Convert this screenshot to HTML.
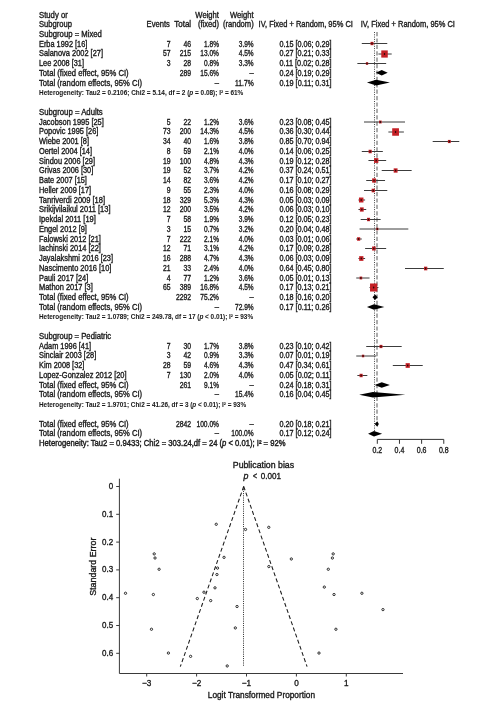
<!DOCTYPE html>
<html><head><meta charset="utf-8"><style>
html,body{margin:0;padding:0;background:#fff;}
svg{display:block;}
text{font-family:"Liberation Sans",sans-serif;fill:#1a1a1a;stroke:#1a1a1a;stroke-width:0.35px;white-space:pre;}
</style></head><body>
<svg width="499" height="712" viewBox="0 0 499 712">
<rect width="499" height="712" fill="#fff"/>
<line x1="377.0" y1="32" x2="377.0" y2="421" stroke="#a8a8a8" stroke-width="1.9" stroke-dasharray="4.2 2.2"/>
<line x1="374.5" y1="32" x2="374.5" y2="431" stroke="#333" stroke-width="0.9" stroke-dasharray="1 1.3"/>
<line x1="361.79" y1="43.50" x2="387.27" y2="43.50" stroke="#3c3c3c" stroke-width="1"/>
<rect x="370.51" y="41.85" width="2.98" height="3.31" fill="#c42026"/>
<ellipse cx="372.00" cy="43.50" rx="0.75" ry="0.95" fill="#2a0a0a"/>
<line x1="378.41" y1="54.00" x2="391.70" y2="54.00" stroke="#3c3c3c" stroke-width="1"/>
<rect x="381.27" y="50.40" width="6.49" height="7.20" fill="#c42026"/>
<ellipse cx="384.51" cy="54.00" rx="0.75" ry="0.95" fill="#2a0a0a"/>
<line x1="357.36" y1="63.50" x2="386.16" y2="63.50" stroke="#3c3c3c" stroke-width="1"/>
<rect x="365.87" y="62.23" width="2.29" height="2.54" fill="#c42026"/>
<ellipse cx="367.01" cy="63.50" rx="0.75" ry="0.95" fill="#2a0a0a"/>
<polygon points="375.79,72.82 381.73,70.02 387.67,72.82 381.73,75.62" fill="#000"/>
<polygon points="366.93,82.58 376.19,79.78 389.89,82.58 376.19,85.38" fill="#000"/>
<line x1="364.00" y1="122.00" x2="405.00" y2="122.00" stroke="#3c3c3c" stroke-width="1"/>
<rect x="379.02" y="120.56" width="2.60" height="2.88" fill="#c42026"/>
<ellipse cx="380.32" cy="122.00" rx="0.75" ry="0.95" fill="#2a0a0a"/>
<line x1="388.38" y1="132.00" x2="403.89" y2="132.00" stroke="#3c3c3c" stroke-width="1"/>
<rect x="392.20" y="128.25" width="6.76" height="7.50" fill="#c42026"/>
<ellipse cx="395.58" cy="132.00" rx="0.75" ry="0.95" fill="#2a0a0a"/>
<line x1="432.70" y1="141.50" x2="459.29" y2="141.50" stroke="#3c3c3c" stroke-width="1"/>
<rect x="447.89" y="139.91" width="2.86" height="3.18" fill="#c42026"/>
<ellipse cx="449.32" cy="141.50" rx="0.75" ry="0.95" fill="#2a0a0a"/>
<line x1="361.79" y1="151.50" x2="382.84" y2="151.50" stroke="#3c3c3c" stroke-width="1"/>
<rect x="368.59" y="149.75" width="3.15" height="3.49" fill="#c42026"/>
<ellipse cx="370.16" cy="151.50" rx="0.75" ry="0.95" fill="#2a0a0a"/>
<line x1="368.44" y1="160.50" x2="386.16" y2="160.50" stroke="#3c3c3c" stroke-width="1"/>
<rect x="374.04" y="158.12" width="4.30" height="4.77" fill="#c42026"/>
<ellipse cx="376.19" cy="160.50" rx="0.75" ry="0.95" fill="#2a0a0a"/>
<line x1="381.73" y1="170.50" x2="411.65" y2="170.50" stroke="#3c3c3c" stroke-width="1"/>
<rect x="393.68" y="168.35" width="3.88" height="4.31" fill="#c42026"/>
<ellipse cx="395.62" cy="170.50" rx="0.75" ry="0.95" fill="#2a0a0a"/>
<line x1="366.22" y1="180.50" x2="385.06" y2="180.50" stroke="#3c3c3c" stroke-width="1"/>
<rect x="372.14" y="178.37" width="3.84" height="4.26" fill="#c42026"/>
<ellipse cx="374.06" cy="180.50" rx="0.75" ry="0.95" fill="#2a0a0a"/>
<line x1="364.00" y1="190.50" x2="387.27" y2="190.50" stroke="#3c3c3c" stroke-width="1"/>
<rect x="371.65" y="188.70" width="3.25" height="3.61" fill="#c42026"/>
<ellipse cx="373.27" cy="190.50" rx="0.75" ry="0.95" fill="#2a0a0a"/>
<line x1="358.46" y1="200.00" x2="365.11" y2="200.00" stroke="#3c3c3c" stroke-width="1"/>
<rect x="358.97" y="197.52" width="4.47" height="4.96" fill="#c42026"/>
<ellipse cx="361.20" cy="200.00" rx="0.75" ry="0.95" fill="#2a0a0a"/>
<line x1="358.46" y1="209.50" x2="366.22" y2="209.50" stroke="#3c3c3c" stroke-width="1"/>
<rect x="359.89" y="207.39" width="3.80" height="4.22" fill="#c42026"/>
<ellipse cx="361.79" cy="209.50" rx="0.75" ry="0.95" fill="#2a0a0a"/>
<line x1="360.68" y1="219.50" x2="380.62" y2="219.50" stroke="#3c3c3c" stroke-width="1"/>
<rect x="366.99" y="217.81" width="3.04" height="3.37" fill="#c42026"/>
<ellipse cx="368.51" cy="219.50" rx="0.75" ry="0.95" fill="#2a0a0a"/>
<line x1="359.57" y1="229.00" x2="408.32" y2="229.00" stroke="#3c3c3c" stroke-width="1"/>
<rect x="376.20" y="227.78" width="2.20" height="2.44" fill="#c42026"/>
<ellipse cx="377.30" cy="229.00" rx="0.75" ry="0.95" fill="#2a0a0a"/>
<line x1="356.25" y1="239.00" x2="361.79" y2="239.00" stroke="#3c3c3c" stroke-width="1"/>
<rect x="357.06" y="237.25" width="3.15" height="3.49" fill="#c42026"/>
<ellipse cx="358.63" cy="239.00" rx="0.75" ry="0.95" fill="#2a0a0a"/>
<line x1="365.11" y1="248.50" x2="386.16" y2="248.50" stroke="#3c3c3c" stroke-width="1"/>
<rect x="372.05" y="246.49" width="3.63" height="4.03" fill="#c42026"/>
<ellipse cx="373.87" cy="248.50" rx="0.75" ry="0.95" fill="#2a0a0a"/>
<line x1="358.46" y1="258.50" x2="365.11" y2="258.50" stroke="#3c3c3c" stroke-width="1"/>
<rect x="359.17" y="256.14" width="4.26" height="4.73" fill="#c42026"/>
<ellipse cx="361.30" cy="258.50" rx="0.75" ry="0.95" fill="#2a0a0a"/>
<line x1="405.00" y1="268.50" x2="443.78" y2="268.50" stroke="#3c3c3c" stroke-width="1"/>
<rect x="424.00" y="266.67" width="3.30" height="3.66" fill="#c42026"/>
<ellipse cx="425.65" cy="268.50" rx="0.75" ry="0.95" fill="#2a0a0a"/>
<line x1="356.25" y1="278.00" x2="369.54" y2="278.00" stroke="#3c3c3c" stroke-width="1"/>
<rect x="359.60" y="276.56" width="2.60" height="2.88" fill="#c42026"/>
<ellipse cx="360.90" cy="278.00" rx="0.75" ry="0.95" fill="#2a0a0a"/>
<line x1="369.54" y1="287.50" x2="378.41" y2="287.50" stroke="#3c3c3c" stroke-width="1"/>
<rect x="370.03" y="283.48" width="7.25" height="8.05" fill="#c42026"/>
<ellipse cx="373.65" cy="287.50" rx="0.75" ry="0.95" fill="#2a0a0a"/>
<polygon points="372.47,297.21 375.08,294.41 377.70,297.21 375.08,300.01" fill="#000"/>
<polygon points="366.93,306.97 373.98,304.17 384.35,306.97 373.98,309.77" fill="#000"/>
<line x1="366.22" y1="346.50" x2="401.68" y2="346.50" stroke="#3c3c3c" stroke-width="1"/>
<rect x="379.53" y="344.88" width="2.92" height="3.24" fill="#c42026"/>
<ellipse cx="380.99" cy="346.50" rx="0.75" ry="0.95" fill="#2a0a0a"/>
<line x1="356.25" y1="356.00" x2="376.19" y2="356.00" stroke="#3c3c3c" stroke-width="1"/>
<rect x="361.87" y="354.68" width="2.37" height="2.63" fill="#c42026"/>
<ellipse cx="363.05" cy="356.00" rx="0.75" ry="0.95" fill="#2a0a0a"/>
<line x1="392.81" y1="365.50" x2="422.73" y2="365.50" stroke="#3c3c3c" stroke-width="1"/>
<rect x="405.61" y="363.16" width="4.22" height="4.69" fill="#c42026"/>
<ellipse cx="407.72" cy="365.50" rx="0.75" ry="0.95" fill="#2a0a0a"/>
<line x1="357.36" y1="375.50" x2="367.33" y2="375.50" stroke="#3c3c3c" stroke-width="1"/>
<rect x="359.56" y="373.78" width="3.09" height="3.43" fill="#c42026"/>
<ellipse cx="361.11" cy="375.50" rx="0.75" ry="0.95" fill="#2a0a0a"/>
<polygon points="374.68,385.02 381.73,382.22 389.89,385.02 381.73,387.82" fill="#000"/>
<polygon points="359.17,394.77 372.87,391.97 405.40,394.77 372.87,397.57" fill="#000"/>
<polygon points="374.68,424.04 377.30,421.24 378.81,424.04 377.30,426.84" fill="#000"/>
<polygon points="368.04,433.80 373.98,431.00 382.13,433.80 373.98,436.60" fill="#000"/>
<line x1="377.30" y1="439.4" x2="443.78" y2="439.4" stroke="#333" stroke-width="1"/>
<line x1="377.30" y1="439.4" x2="377.30" y2="443.8" stroke="#333" stroke-width="1"/>
<line x1="399.46" y1="439.4" x2="399.46" y2="443.8" stroke="#333" stroke-width="1"/>
<line x1="421.62" y1="439.4" x2="421.62" y2="443.8" stroke="#333" stroke-width="1"/>
<line x1="443.78" y1="439.4" x2="443.78" y2="443.8" stroke="#333" stroke-width="1"/>
<path d="M119.4,478.7 L119.4,673.5 L403.0,673.5" fill="none" stroke="#3a3a3a" stroke-width="1"/>
<line x1="116.2" y1="486.50" x2="119.4" y2="486.50" stroke="#3a3a3a" stroke-width="1"/>
<line x1="116.2" y1="514.30" x2="119.4" y2="514.30" stroke="#3a3a3a" stroke-width="1"/>
<line x1="116.2" y1="542.10" x2="119.4" y2="542.10" stroke="#3a3a3a" stroke-width="1"/>
<line x1="116.2" y1="569.90" x2="119.4" y2="569.90" stroke="#3a3a3a" stroke-width="1"/>
<line x1="116.2" y1="597.70" x2="119.4" y2="597.70" stroke="#3a3a3a" stroke-width="1"/>
<line x1="116.2" y1="625.50" x2="119.4" y2="625.50" stroke="#3a3a3a" stroke-width="1"/>
<line x1="116.2" y1="653.30" x2="119.4" y2="653.30" stroke="#3a3a3a" stroke-width="1"/>
<line x1="146.70" y1="673.5" x2="146.70" y2="676.5" stroke="#3a3a3a" stroke-width="1"/>
<line x1="196.60" y1="673.5" x2="196.60" y2="676.5" stroke="#3a3a3a" stroke-width="1"/>
<line x1="246.50" y1="673.5" x2="246.50" y2="676.5" stroke="#3a3a3a" stroke-width="1"/>
<line x1="296.40" y1="673.5" x2="296.40" y2="676.5" stroke="#3a3a3a" stroke-width="1"/>
<line x1="346.30" y1="673.5" x2="346.30" y2="676.5" stroke="#3a3a3a" stroke-width="1"/>
<line x1="243.5" y1="486.5" x2="243.5" y2="666.7" stroke="#111" stroke-width="0.9" stroke-dasharray="1 1.2"/>
<line x1="243.7" y1="486.5" x2="180.30" y2="666.7" stroke="#1a1a1a" stroke-width="1.05" stroke-dasharray="4 2.5"/>
<line x1="243.7" y1="486.5" x2="307.10" y2="666.7" stroke="#1a1a1a" stroke-width="1.05" stroke-dasharray="4 2.5"/>
<circle cx="210.69" cy="600.61" r="1.15" fill="none" stroke="#222" stroke-width="0.95"/>
<circle cx="245.52" cy="529.45" r="1.15" fill="none" stroke="#222" stroke-width="0.95"/>
<circle cx="190.60" cy="656.36" r="1.15" fill="none" stroke="#222" stroke-width="0.95"/>
<circle cx="235.33" cy="627.93" r="1.15" fill="none" stroke="#222" stroke-width="0.95"/>
<circle cx="268.77" cy="527.33" r="1.15" fill="none" stroke="#222" stroke-width="0.95"/>
<circle cx="382.96" cy="609.60" r="1.15" fill="none" stroke="#222" stroke-width="0.95"/>
<circle cx="203.97" cy="592.22" r="1.15" fill="none" stroke="#222" stroke-width="0.95"/>
<circle cx="224.04" cy="557.36" r="1.15" fill="none" stroke="#222" stroke-width="0.95"/>
<circle cx="268.85" cy="566.56" r="1.15" fill="none" stroke="#222" stroke-width="0.95"/>
<circle cx="217.54" cy="568.09" r="1.15" fill="none" stroke="#222" stroke-width="0.95"/>
<circle cx="214.99" cy="587.83" r="1.15" fill="none" stroke="#222" stroke-width="0.95"/>
<circle cx="154.21" cy="553.89" r="1.15" fill="none" stroke="#222" stroke-width="0.95"/>
<circle cx="333.19" cy="553.89" r="1.15" fill="none" stroke="#222" stroke-width="0.95"/>
<circle cx="159.10" cy="569.27" r="1.15" fill="none" stroke="#222" stroke-width="0.95"/>
<circle cx="328.30" cy="569.27" r="1.15" fill="none" stroke="#222" stroke-width="0.95"/>
<circle cx="197.30" cy="598.55" r="1.15" fill="none" stroke="#222" stroke-width="0.95"/>
<circle cx="227.22" cy="665.95" r="1.15" fill="none" stroke="#222" stroke-width="0.95"/>
<circle cx="125.51" cy="593.27" r="1.15" fill="none" stroke="#222" stroke-width="0.95"/>
<circle cx="361.89" cy="593.27" r="1.15" fill="none" stroke="#222" stroke-width="0.95"/>
<circle cx="216.93" cy="574.54" r="1.15" fill="none" stroke="#222" stroke-width="0.95"/>
<circle cx="155.02" cy="558.01" r="1.15" fill="none" stroke="#222" stroke-width="0.95"/>
<circle cx="332.38" cy="558.01" r="1.15" fill="none" stroke="#222" stroke-width="0.95"/>
<circle cx="324.32" cy="587.10" r="1.15" fill="none" stroke="#222" stroke-width="0.95"/>
<circle cx="151.48" cy="629.26" r="1.15" fill="none" stroke="#222" stroke-width="0.95"/>
<circle cx="335.92" cy="629.26" r="1.15" fill="none" stroke="#222" stroke-width="0.95"/>
<circle cx="216.24" cy="524.28" r="1.15" fill="none" stroke="#222" stroke-width="0.95"/>
<circle cx="237.04" cy="606.50" r="1.15" fill="none" stroke="#222" stroke-width="0.95"/>
<circle cx="168.41" cy="653.06" r="1.15" fill="none" stroke="#222" stroke-width="0.95"/>
<circle cx="318.99" cy="653.06" r="1.15" fill="none" stroke="#222" stroke-width="0.95"/>
<circle cx="291.32" cy="558.98" r="1.15" fill="none" stroke="#222" stroke-width="0.95"/>
<circle cx="153.37" cy="594.52" r="1.15" fill="none" stroke="#222" stroke-width="0.95"/>
<circle cx="334.03" cy="594.52" r="1.15" fill="none" stroke="#222" stroke-width="0.95"/>
<g style="filter:grayscale(1)">
<text x="39.00" y="17.82" font-size="8.3" textLength="28.82" lengthAdjust="spacingAndGlyphs">Study or</text>
<text x="39.00" y="27.36" font-size="8.3" textLength="32.94" lengthAdjust="spacingAndGlyphs">Subgroup</text>
<text x="146.58" y="27.36" font-size="8.3" textLength="23.22" lengthAdjust="spacingAndGlyphs">Events</text>
<text x="174.22" y="27.36" font-size="8.3" textLength="16.88" lengthAdjust="spacingAndGlyphs">Total</text>
<text x="195.36" y="17.82" font-size="8.3" textLength="23.64" lengthAdjust="spacingAndGlyphs">Weight</text>
<text x="197.90" y="27.36" font-size="8.3" textLength="21.10" lengthAdjust="spacingAndGlyphs">(fixed)</text>
<text x="230.06" y="17.82" font-size="8.3" textLength="23.64" lengthAdjust="spacingAndGlyphs">Weight</text>
<text x="222.89" y="27.36" font-size="8.3" textLength="30.81" lengthAdjust="spacingAndGlyphs">(random)</text>
<text x="258.60" y="26.96" font-size="8.3" textLength="94.30" lengthAdjust="spacingAndGlyphs">IV, Fixed + Random, 95% CI</text>
<text x="360.70" y="26.96" font-size="8.3" textLength="94.20" lengthAdjust="spacingAndGlyphs">IV, Fixed + Random, 95% CI</text>
<text x="39.00" y="37.00" font-size="8.3" textLength="62.92" lengthAdjust="spacingAndGlyphs">Subgroup = Mixed</text>
<text x="39.00" y="46.74" font-size="8.3" textLength="48.34" lengthAdjust="spacingAndGlyphs">Erba 1992 [16]</text>
<text x="166.70" y="46.74" font-size="8.3" textLength="3.80" lengthAdjust="spacingAndGlyphs">7</text>
<text x="183.50" y="46.74" font-size="8.3" textLength="7.60" lengthAdjust="spacingAndGlyphs">46</text>
<text x="204.09" y="46.74" font-size="8.3" textLength="14.91" lengthAdjust="spacingAndGlyphs">1.8%</text>
<text x="238.79" y="46.74" font-size="8.3" textLength="14.91" lengthAdjust="spacingAndGlyphs">3.9%</text>
<text x="279.40" y="46.74" font-size="8.3" textLength="52.14" lengthAdjust="spacingAndGlyphs">0.15 [0.06; 0.29]</text>
<text x="39.00" y="56.48" font-size="8.3" textLength="63.97" lengthAdjust="spacingAndGlyphs">Salanova 2002 [27]</text>
<text x="162.90" y="56.48" font-size="8.3" textLength="7.60" lengthAdjust="spacingAndGlyphs">57</text>
<text x="179.70" y="56.48" font-size="8.3" textLength="11.40" lengthAdjust="spacingAndGlyphs">215</text>
<text x="200.29" y="56.48" font-size="8.3" textLength="18.71" lengthAdjust="spacingAndGlyphs">13.0%</text>
<text x="238.79" y="56.48" font-size="8.3" textLength="14.91" lengthAdjust="spacingAndGlyphs">4.5%</text>
<text x="279.40" y="56.48" font-size="8.3" textLength="52.14" lengthAdjust="spacingAndGlyphs">0.27 [0.21; 0.33]</text>
<text x="39.00" y="66.22" font-size="8.3" textLength="44.97" lengthAdjust="spacingAndGlyphs">Lee 2008 [31]</text>
<text x="166.70" y="66.22" font-size="8.3" textLength="3.80" lengthAdjust="spacingAndGlyphs">3</text>
<text x="183.50" y="66.22" font-size="8.3" textLength="7.60" lengthAdjust="spacingAndGlyphs">28</text>
<text x="204.09" y="66.22" font-size="8.3" textLength="14.91" lengthAdjust="spacingAndGlyphs">0.8%</text>
<text x="238.79" y="66.22" font-size="8.3" textLength="14.91" lengthAdjust="spacingAndGlyphs">3.3%</text>
<text x="279.40" y="66.22" font-size="8.3" textLength="52.14" lengthAdjust="spacingAndGlyphs">0.11 [0.02; 0.28]</text>
<text x="39.00" y="75.96" font-size="8.3" textLength="89.63" lengthAdjust="spacingAndGlyphs">Total (fixed effect, 95% CI)</text>
<text x="179.70" y="75.96" font-size="8.3" textLength="11.40" lengthAdjust="spacingAndGlyphs">289</text>
<text x="200.29" y="75.96" font-size="8.3" textLength="18.71" lengthAdjust="spacingAndGlyphs">15.6%</text>
<text x="249.48" y="75.96" font-size="8.3" textLength="4.22" lengthAdjust="spacingAndGlyphs">–</text>
<text x="279.40" y="75.96" font-size="8.3" textLength="52.14" lengthAdjust="spacingAndGlyphs">0.24 [0.19; 0.29]</text>
<text x="39.00" y="85.70" font-size="8.3" textLength="103.14" lengthAdjust="spacingAndGlyphs">Total (random effects, 95% CI)</text>
<text x="214.78" y="85.70" font-size="8.3" textLength="4.22" lengthAdjust="spacingAndGlyphs">–</text>
<text x="234.99" y="85.70" font-size="8.3" textLength="18.71" lengthAdjust="spacingAndGlyphs">11.7%</text>
<text x="279.40" y="85.70" font-size="8.3" textLength="52.14" lengthAdjust="spacingAndGlyphs">0.19 [0.11; 0.31]</text>
<text x="39.00" y="95.24" font-size="7" textLength="204.30" lengthAdjust="spacingAndGlyphs" font-weight="bold" style="stroke-width:0.05px">Heterogeneity: Tau2 = 0.2106; Chi2 = 5.14, df = 2 (<tspan font-style="italic">p</tspan> = 0.08); I² = 61%</text>
<text x="39.00" y="114.92" font-size="8.3" textLength="63.76" lengthAdjust="spacingAndGlyphs">Subgroup = Adults</text>
<text x="39.00" y="124.66" font-size="8.3" textLength="64.81" lengthAdjust="spacingAndGlyphs">Jacobson 1995 [25]</text>
<text x="166.70" y="124.66" font-size="8.3" textLength="3.80" lengthAdjust="spacingAndGlyphs">5</text>
<text x="183.50" y="124.66" font-size="8.3" textLength="7.60" lengthAdjust="spacingAndGlyphs">22</text>
<text x="204.09" y="124.66" font-size="8.3" textLength="14.91" lengthAdjust="spacingAndGlyphs">1.2%</text>
<text x="238.79" y="124.66" font-size="8.3" textLength="14.91" lengthAdjust="spacingAndGlyphs">3.6%</text>
<text x="279.40" y="124.66" font-size="8.3" textLength="52.14" lengthAdjust="spacingAndGlyphs">0.23 [0.08; 0.45]</text>
<text x="39.00" y="134.40" font-size="8.3" textLength="59.32" lengthAdjust="spacingAndGlyphs">Popovic 1995 [26]</text>
<text x="162.90" y="134.40" font-size="8.3" textLength="7.60" lengthAdjust="spacingAndGlyphs">73</text>
<text x="179.70" y="134.40" font-size="8.3" textLength="11.40" lengthAdjust="spacingAndGlyphs">200</text>
<text x="200.29" y="134.40" font-size="8.3" textLength="18.71" lengthAdjust="spacingAndGlyphs">14.3%</text>
<text x="238.79" y="134.40" font-size="8.3" textLength="14.91" lengthAdjust="spacingAndGlyphs">4.5%</text>
<text x="279.40" y="134.40" font-size="8.3" textLength="52.14" lengthAdjust="spacingAndGlyphs">0.36 [0.30; 0.44]</text>
<text x="39.00" y="144.14" font-size="8.3" textLength="50.03" lengthAdjust="spacingAndGlyphs">Wiebe 2001 [8]</text>
<text x="162.90" y="144.14" font-size="8.3" textLength="7.60" lengthAdjust="spacingAndGlyphs">34</text>
<text x="183.50" y="144.14" font-size="8.3" textLength="7.60" lengthAdjust="spacingAndGlyphs">40</text>
<text x="204.09" y="144.14" font-size="8.3" textLength="14.91" lengthAdjust="spacingAndGlyphs">1.6%</text>
<text x="238.79" y="144.14" font-size="8.3" textLength="14.91" lengthAdjust="spacingAndGlyphs">3.8%</text>
<text x="279.40" y="144.14" font-size="8.3" textLength="52.14" lengthAdjust="spacingAndGlyphs">0.85 [0.70; 0.94]</text>
<text x="39.00" y="153.88" font-size="8.3" textLength="52.98" lengthAdjust="spacingAndGlyphs">Oertel 2004 [14]</text>
<text x="166.70" y="153.88" font-size="8.3" textLength="3.80" lengthAdjust="spacingAndGlyphs">8</text>
<text x="183.50" y="153.88" font-size="8.3" textLength="7.60" lengthAdjust="spacingAndGlyphs">59</text>
<text x="204.09" y="153.88" font-size="8.3" textLength="14.91" lengthAdjust="spacingAndGlyphs">2.1%</text>
<text x="238.79" y="153.88" font-size="8.3" textLength="14.91" lengthAdjust="spacingAndGlyphs">4.0%</text>
<text x="279.40" y="153.88" font-size="8.3" textLength="52.14" lengthAdjust="spacingAndGlyphs">0.14 [0.06; 0.25]</text>
<text x="39.00" y="163.62" font-size="8.3" textLength="55.95" lengthAdjust="spacingAndGlyphs">Sindou 2006 [29]</text>
<text x="162.90" y="163.62" font-size="8.3" textLength="7.60" lengthAdjust="spacingAndGlyphs">19</text>
<text x="179.70" y="163.62" font-size="8.3" textLength="11.40" lengthAdjust="spacingAndGlyphs">100</text>
<text x="204.09" y="163.62" font-size="8.3" textLength="14.91" lengthAdjust="spacingAndGlyphs">4.8%</text>
<text x="238.79" y="163.62" font-size="8.3" textLength="14.91" lengthAdjust="spacingAndGlyphs">4.3%</text>
<text x="279.40" y="163.62" font-size="8.3" textLength="52.14" lengthAdjust="spacingAndGlyphs">0.19 [0.12; 0.28]</text>
<text x="39.00" y="173.36" font-size="8.3" textLength="54.24" lengthAdjust="spacingAndGlyphs">Grivas 2006 [30]</text>
<text x="162.90" y="173.36" font-size="8.3" textLength="7.60" lengthAdjust="spacingAndGlyphs">19</text>
<text x="183.50" y="173.36" font-size="8.3" textLength="7.60" lengthAdjust="spacingAndGlyphs">52</text>
<text x="204.09" y="173.36" font-size="8.3" textLength="14.91" lengthAdjust="spacingAndGlyphs">3.7%</text>
<text x="238.79" y="173.36" font-size="8.3" textLength="14.91" lengthAdjust="spacingAndGlyphs">4.2%</text>
<text x="279.40" y="173.36" font-size="8.3" textLength="52.14" lengthAdjust="spacingAndGlyphs">0.37 [0.24; 0.51]</text>
<text x="39.00" y="183.10" font-size="8.3" textLength="47.92" lengthAdjust="spacingAndGlyphs">Bate 2007 [15]</text>
<text x="162.90" y="183.10" font-size="8.3" textLength="7.60" lengthAdjust="spacingAndGlyphs">14</text>
<text x="183.50" y="183.10" font-size="8.3" textLength="7.60" lengthAdjust="spacingAndGlyphs">82</text>
<text x="204.09" y="183.10" font-size="8.3" textLength="14.91" lengthAdjust="spacingAndGlyphs">3.6%</text>
<text x="238.79" y="183.10" font-size="8.3" textLength="14.91" lengthAdjust="spacingAndGlyphs">4.2%</text>
<text x="279.40" y="183.10" font-size="8.3" textLength="52.14" lengthAdjust="spacingAndGlyphs">0.17 [0.10; 0.27]</text>
<text x="39.00" y="192.84" font-size="8.3" textLength="52.14" lengthAdjust="spacingAndGlyphs">Heller 2009 [17]</text>
<text x="166.70" y="192.84" font-size="8.3" textLength="3.80" lengthAdjust="spacingAndGlyphs">9</text>
<text x="183.50" y="192.84" font-size="8.3" textLength="7.60" lengthAdjust="spacingAndGlyphs">55</text>
<text x="204.09" y="192.84" font-size="8.3" textLength="14.91" lengthAdjust="spacingAndGlyphs">2.3%</text>
<text x="238.79" y="192.84" font-size="8.3" textLength="14.91" lengthAdjust="spacingAndGlyphs">4.0%</text>
<text x="279.40" y="192.84" font-size="8.3" textLength="52.14" lengthAdjust="spacingAndGlyphs">0.16 [0.08; 0.29]</text>
<text x="39.00" y="202.58" font-size="8.3" textLength="66.06" lengthAdjust="spacingAndGlyphs">Tanriverdi 2009 [18]</text>
<text x="162.90" y="202.58" font-size="8.3" textLength="7.60" lengthAdjust="spacingAndGlyphs">18</text>
<text x="179.70" y="202.58" font-size="8.3" textLength="11.40" lengthAdjust="spacingAndGlyphs">329</text>
<text x="204.09" y="202.58" font-size="8.3" textLength="14.91" lengthAdjust="spacingAndGlyphs">5.3%</text>
<text x="238.79" y="202.58" font-size="8.3" textLength="14.91" lengthAdjust="spacingAndGlyphs">4.3%</text>
<text x="279.40" y="202.58" font-size="8.3" textLength="52.14" lengthAdjust="spacingAndGlyphs">0.05 [0.03; 0.09]</text>
<text x="39.00" y="212.32" font-size="8.3" textLength="71.54" lengthAdjust="spacingAndGlyphs">Srikijvilaikul 2011 [13]</text>
<text x="162.90" y="212.32" font-size="8.3" textLength="7.60" lengthAdjust="spacingAndGlyphs">12</text>
<text x="179.70" y="212.32" font-size="8.3" textLength="11.40" lengthAdjust="spacingAndGlyphs">200</text>
<text x="204.09" y="212.32" font-size="8.3" textLength="14.91" lengthAdjust="spacingAndGlyphs">3.5%</text>
<text x="238.79" y="212.32" font-size="8.3" textLength="14.91" lengthAdjust="spacingAndGlyphs">4.2%</text>
<text x="279.40" y="212.32" font-size="8.3" textLength="52.14" lengthAdjust="spacingAndGlyphs">0.06 [0.03; 0.10]</text>
<text x="39.00" y="222.06" font-size="8.3" textLength="56.79" lengthAdjust="spacingAndGlyphs">Ipekdal 2011 [19]</text>
<text x="166.70" y="222.06" font-size="8.3" textLength="3.80" lengthAdjust="spacingAndGlyphs">7</text>
<text x="183.50" y="222.06" font-size="8.3" textLength="7.60" lengthAdjust="spacingAndGlyphs">58</text>
<text x="204.09" y="222.06" font-size="8.3" textLength="14.91" lengthAdjust="spacingAndGlyphs">1.9%</text>
<text x="238.79" y="222.06" font-size="8.3" textLength="14.91" lengthAdjust="spacingAndGlyphs">3.9%</text>
<text x="279.40" y="222.06" font-size="8.3" textLength="52.14" lengthAdjust="spacingAndGlyphs">0.12 [0.05; 0.23]</text>
<text x="39.00" y="231.80" font-size="8.3" textLength="47.92" lengthAdjust="spacingAndGlyphs">Engel 2012 [9]</text>
<text x="166.70" y="231.80" font-size="8.3" textLength="3.80" lengthAdjust="spacingAndGlyphs">3</text>
<text x="183.50" y="231.80" font-size="8.3" textLength="7.60" lengthAdjust="spacingAndGlyphs">15</text>
<text x="204.09" y="231.80" font-size="8.3" textLength="14.91" lengthAdjust="spacingAndGlyphs">0.7%</text>
<text x="238.79" y="231.80" font-size="8.3" textLength="14.91" lengthAdjust="spacingAndGlyphs">3.2%</text>
<text x="279.40" y="231.80" font-size="8.3" textLength="52.14" lengthAdjust="spacingAndGlyphs">0.20 [0.04; 0.48]</text>
<text x="39.00" y="241.54" font-size="8.3" textLength="61.84" lengthAdjust="spacingAndGlyphs">Falowski 2012 [21]</text>
<text x="166.70" y="241.54" font-size="8.3" textLength="3.80" lengthAdjust="spacingAndGlyphs">7</text>
<text x="179.70" y="241.54" font-size="8.3" textLength="11.40" lengthAdjust="spacingAndGlyphs">222</text>
<text x="204.09" y="241.54" font-size="8.3" textLength="14.91" lengthAdjust="spacingAndGlyphs">2.1%</text>
<text x="238.79" y="241.54" font-size="8.3" textLength="14.91" lengthAdjust="spacingAndGlyphs">4.0%</text>
<text x="279.40" y="241.54" font-size="8.3" textLength="52.14" lengthAdjust="spacingAndGlyphs">0.03 [0.01; 0.06]</text>
<text x="39.00" y="251.28" font-size="8.3" textLength="61.85" lengthAdjust="spacingAndGlyphs">Iachinski 2014 [22]</text>
<text x="162.90" y="251.28" font-size="8.3" textLength="7.60" lengthAdjust="spacingAndGlyphs">12</text>
<text x="183.50" y="251.28" font-size="8.3" textLength="7.60" lengthAdjust="spacingAndGlyphs">71</text>
<text x="204.09" y="251.28" font-size="8.3" textLength="14.91" lengthAdjust="spacingAndGlyphs">3.1%</text>
<text x="238.79" y="251.28" font-size="8.3" textLength="14.91" lengthAdjust="spacingAndGlyphs">4.2%</text>
<text x="279.40" y="251.28" font-size="8.3" textLength="52.14" lengthAdjust="spacingAndGlyphs">0.17 [0.09; 0.28]</text>
<text x="39.00" y="261.02" font-size="8.3" textLength="74.08" lengthAdjust="spacingAndGlyphs">Jayalakshmi 2016 [23]</text>
<text x="162.90" y="261.02" font-size="8.3" textLength="7.60" lengthAdjust="spacingAndGlyphs">16</text>
<text x="179.70" y="261.02" font-size="8.3" textLength="11.40" lengthAdjust="spacingAndGlyphs">288</text>
<text x="204.09" y="261.02" font-size="8.3" textLength="14.91" lengthAdjust="spacingAndGlyphs">4.7%</text>
<text x="238.79" y="261.02" font-size="8.3" textLength="14.91" lengthAdjust="spacingAndGlyphs">4.3%</text>
<text x="279.40" y="261.02" font-size="8.3" textLength="52.14" lengthAdjust="spacingAndGlyphs">0.06 [0.03; 0.09]</text>
<text x="39.00" y="270.76" font-size="8.3" textLength="72.40" lengthAdjust="spacingAndGlyphs">Nascimento 2016 [10]</text>
<text x="162.90" y="270.76" font-size="8.3" textLength="7.60" lengthAdjust="spacingAndGlyphs">21</text>
<text x="183.50" y="270.76" font-size="8.3" textLength="7.60" lengthAdjust="spacingAndGlyphs">33</text>
<text x="204.09" y="270.76" font-size="8.3" textLength="14.91" lengthAdjust="spacingAndGlyphs">2.4%</text>
<text x="238.79" y="270.76" font-size="8.3" textLength="14.91" lengthAdjust="spacingAndGlyphs">4.0%</text>
<text x="279.40" y="270.76" font-size="8.3" textLength="52.14" lengthAdjust="spacingAndGlyphs">0.64 [0.45; 0.80]</text>
<text x="39.00" y="280.50" font-size="8.3" textLength="49.19" lengthAdjust="spacingAndGlyphs">Pauli 2017 [24]</text>
<text x="166.70" y="280.50" font-size="8.3" textLength="3.80" lengthAdjust="spacingAndGlyphs">4</text>
<text x="183.50" y="280.50" font-size="8.3" textLength="7.60" lengthAdjust="spacingAndGlyphs">77</text>
<text x="204.09" y="280.50" font-size="8.3" textLength="14.91" lengthAdjust="spacingAndGlyphs">1.2%</text>
<text x="238.79" y="280.50" font-size="8.3" textLength="14.91" lengthAdjust="spacingAndGlyphs">3.6%</text>
<text x="279.40" y="280.50" font-size="8.3" textLength="52.14" lengthAdjust="spacingAndGlyphs">0.05 [0.01; 0.13]</text>
<text x="39.00" y="290.24" font-size="8.3" textLength="53.83" lengthAdjust="spacingAndGlyphs">Mathon 2017 [3]</text>
<text x="162.90" y="290.24" font-size="8.3" textLength="7.60" lengthAdjust="spacingAndGlyphs">65</text>
<text x="179.70" y="290.24" font-size="8.3" textLength="11.40" lengthAdjust="spacingAndGlyphs">389</text>
<text x="200.29" y="290.24" font-size="8.3" textLength="18.71" lengthAdjust="spacingAndGlyphs">16.8%</text>
<text x="238.79" y="290.24" font-size="8.3" textLength="14.91" lengthAdjust="spacingAndGlyphs">4.5%</text>
<text x="279.40" y="290.24" font-size="8.3" textLength="52.14" lengthAdjust="spacingAndGlyphs">0.17 [0.13; 0.21]</text>
<text x="39.00" y="299.98" font-size="8.3" textLength="89.63" lengthAdjust="spacingAndGlyphs">Total (fixed effect, 95% CI)</text>
<text x="175.90" y="299.98" font-size="8.3" textLength="15.20" lengthAdjust="spacingAndGlyphs">2292</text>
<text x="200.29" y="299.98" font-size="8.3" textLength="18.71" lengthAdjust="spacingAndGlyphs">75.2%</text>
<text x="249.48" y="299.98" font-size="8.3" textLength="4.22" lengthAdjust="spacingAndGlyphs">–</text>
<text x="279.40" y="299.98" font-size="8.3" textLength="52.14" lengthAdjust="spacingAndGlyphs">0.18 [0.16; 0.20]</text>
<text x="39.00" y="309.72" font-size="8.3" textLength="103.14" lengthAdjust="spacingAndGlyphs">Total (random effects, 95% CI)</text>
<text x="214.78" y="309.72" font-size="8.3" textLength="4.22" lengthAdjust="spacingAndGlyphs">–</text>
<text x="234.99" y="309.72" font-size="8.3" textLength="18.71" lengthAdjust="spacingAndGlyphs">72.9%</text>
<text x="279.40" y="309.72" font-size="8.3" textLength="52.14" lengthAdjust="spacingAndGlyphs">0.17 [0.11; 0.26]</text>
<text x="39.00" y="319.26" font-size="7" textLength="214.10" lengthAdjust="spacingAndGlyphs" font-weight="bold" style="stroke-width:0.05px">Heterogeneity: Tau2 = 1.0789; Chi2 = 249.78, df = 17 (<tspan font-style="italic">p</tspan> &lt; 0.01); I² = 93%</text>
<text x="39.00" y="338.94" font-size="8.3" textLength="72.20" lengthAdjust="spacingAndGlyphs">Subgroup = Pediatric</text>
<text x="39.00" y="348.68" font-size="8.3" textLength="52.14" lengthAdjust="spacingAndGlyphs">Adam 1996 [41]</text>
<text x="166.70" y="348.68" font-size="8.3" textLength="3.80" lengthAdjust="spacingAndGlyphs">7</text>
<text x="183.50" y="348.68" font-size="8.3" textLength="7.60" lengthAdjust="spacingAndGlyphs">30</text>
<text x="204.09" y="348.68" font-size="8.3" textLength="14.91" lengthAdjust="spacingAndGlyphs">1.7%</text>
<text x="238.79" y="348.68" font-size="8.3" textLength="14.91" lengthAdjust="spacingAndGlyphs">3.8%</text>
<text x="279.40" y="348.68" font-size="8.3" textLength="52.14" lengthAdjust="spacingAndGlyphs">0.23 [0.10; 0.42]</text>
<text x="39.00" y="358.42" font-size="8.3" textLength="57.20" lengthAdjust="spacingAndGlyphs">Sinclair 2003 [28]</text>
<text x="166.70" y="358.42" font-size="8.3" textLength="3.80" lengthAdjust="spacingAndGlyphs">3</text>
<text x="183.50" y="358.42" font-size="8.3" textLength="7.60" lengthAdjust="spacingAndGlyphs">42</text>
<text x="204.09" y="358.42" font-size="8.3" textLength="14.91" lengthAdjust="spacingAndGlyphs">0.9%</text>
<text x="238.79" y="358.42" font-size="8.3" textLength="14.91" lengthAdjust="spacingAndGlyphs">3.3%</text>
<text x="279.40" y="358.42" font-size="8.3" textLength="52.14" lengthAdjust="spacingAndGlyphs">0.07 [0.01; 0.19]</text>
<text x="39.00" y="368.16" font-size="8.3" textLength="45.38" lengthAdjust="spacingAndGlyphs">Kim 2008 [32]</text>
<text x="162.90" y="368.16" font-size="8.3" textLength="7.60" lengthAdjust="spacingAndGlyphs">28</text>
<text x="183.50" y="368.16" font-size="8.3" textLength="7.60" lengthAdjust="spacingAndGlyphs">59</text>
<text x="204.09" y="368.16" font-size="8.3" textLength="14.91" lengthAdjust="spacingAndGlyphs">4.6%</text>
<text x="238.79" y="368.16" font-size="8.3" textLength="14.91" lengthAdjust="spacingAndGlyphs">4.3%</text>
<text x="279.40" y="368.16" font-size="8.3" textLength="52.14" lengthAdjust="spacingAndGlyphs">0.47 [0.34; 0.61]</text>
<text x="39.00" y="377.90" font-size="8.3" textLength="87.60" lengthAdjust="spacingAndGlyphs">Lopez-Gonzalez 2012 [20]</text>
<text x="166.70" y="377.90" font-size="8.3" textLength="3.80" lengthAdjust="spacingAndGlyphs">7</text>
<text x="179.70" y="377.90" font-size="8.3" textLength="11.40" lengthAdjust="spacingAndGlyphs">130</text>
<text x="204.09" y="377.90" font-size="8.3" textLength="14.91" lengthAdjust="spacingAndGlyphs">2.0%</text>
<text x="238.79" y="377.90" font-size="8.3" textLength="14.91" lengthAdjust="spacingAndGlyphs">4.0%</text>
<text x="279.40" y="377.90" font-size="8.3" textLength="52.14" lengthAdjust="spacingAndGlyphs">0.05 [0.02; 0.11]</text>
<text x="39.00" y="387.64" font-size="8.3" textLength="89.63" lengthAdjust="spacingAndGlyphs">Total (fixed effect, 95% CI)</text>
<text x="179.70" y="387.64" font-size="8.3" textLength="11.40" lengthAdjust="spacingAndGlyphs">261</text>
<text x="204.09" y="387.64" font-size="8.3" textLength="14.91" lengthAdjust="spacingAndGlyphs">9.1%</text>
<text x="249.48" y="387.64" font-size="8.3" textLength="4.22" lengthAdjust="spacingAndGlyphs">–</text>
<text x="279.40" y="387.64" font-size="8.3" textLength="52.14" lengthAdjust="spacingAndGlyphs">0.24 [0.18; 0.31]</text>
<text x="39.00" y="397.38" font-size="8.3" textLength="103.14" lengthAdjust="spacingAndGlyphs">Total (random effects, 95% CI)</text>
<text x="214.78" y="397.38" font-size="8.3" textLength="4.22" lengthAdjust="spacingAndGlyphs">–</text>
<text x="234.99" y="397.38" font-size="8.3" textLength="18.71" lengthAdjust="spacingAndGlyphs">15.4%</text>
<text x="279.40" y="397.38" font-size="8.3" textLength="52.14" lengthAdjust="spacingAndGlyphs">0.16 [0.04; 0.45]</text>
<text x="39.00" y="406.92" font-size="7" textLength="207.10" lengthAdjust="spacingAndGlyphs" font-weight="bold" style="stroke-width:0.05px">Heterogeneity: Tau2 = 1.9701; Chi2 = 41.26, df = 3 (<tspan font-style="italic">p</tspan> &lt; 0.01); I² = 93%</text>
<text x="39.00" y="426.60" font-size="8.3" textLength="89.63" lengthAdjust="spacingAndGlyphs">Total (fixed effect, 95% CI)</text>
<text x="175.90" y="426.60" font-size="8.3" textLength="15.20" lengthAdjust="spacingAndGlyphs">2842</text>
<text x="196.49" y="426.60" font-size="8.3" textLength="22.51" lengthAdjust="spacingAndGlyphs">100.0%</text>
<text x="249.48" y="426.60" font-size="8.3" textLength="4.22" lengthAdjust="spacingAndGlyphs">–</text>
<text x="279.40" y="426.60" font-size="8.3" textLength="52.14" lengthAdjust="spacingAndGlyphs">0.20 [0.18; 0.21]</text>
<text x="39.00" y="436.34" font-size="8.3" textLength="103.14" lengthAdjust="spacingAndGlyphs">Total (random effects, 95% CI)</text>
<text x="214.78" y="436.34" font-size="8.3" textLength="4.22" lengthAdjust="spacingAndGlyphs">–</text>
<text x="231.19" y="436.34" font-size="8.3" textLength="22.51" lengthAdjust="spacingAndGlyphs">100.0%</text>
<text x="279.40" y="436.34" font-size="8.3" textLength="52.14" lengthAdjust="spacingAndGlyphs">0.17 [0.12; 0.24]</text>
<text x="39.00" y="446.08" font-size="8.3" textLength="246.50" lengthAdjust="spacingAndGlyphs" style="stroke-width:0.4px">Heterogeneity: Tau2 = 0.9433; Chi2 = 303.24,df = 24 (<tspan font-style="italic">p</tspan> &lt; 0.01); I² = 92%</text>
<text x="372.45" y="452.80" font-size="8.3" textLength="9.71" lengthAdjust="spacingAndGlyphs">0.2</text>
<text x="394.61" y="452.80" font-size="8.3" textLength="9.71" lengthAdjust="spacingAndGlyphs">0.4</text>
<text x="416.77" y="452.80" font-size="8.3" textLength="9.71" lengthAdjust="spacingAndGlyphs">0.6</text>
<text x="438.93" y="452.80" font-size="8.3" textLength="9.71" lengthAdjust="spacingAndGlyphs">0.8</text>
<text x="108.75" y="488.90" font-size="8.6" textLength="4.45" lengthAdjust="spacingAndGlyphs">0</text>
<text x="102.08" y="516.70" font-size="8.6" textLength="11.12" lengthAdjust="spacingAndGlyphs">0.1</text>
<text x="102.08" y="544.50" font-size="8.6" textLength="11.12" lengthAdjust="spacingAndGlyphs">0.2</text>
<text x="102.08" y="572.30" font-size="8.6" textLength="11.12" lengthAdjust="spacingAndGlyphs">0.3</text>
<text x="102.08" y="600.10" font-size="8.6" textLength="11.12" lengthAdjust="spacingAndGlyphs">0.4</text>
<text x="102.08" y="627.90" font-size="8.6" textLength="11.12" lengthAdjust="spacingAndGlyphs">0.5</text>
<text x="102.08" y="655.70" font-size="8.6" textLength="11.12" lengthAdjust="spacingAndGlyphs">0.6</text>
<text x="142.04" y="685.50" font-size="8.6" textLength="9.31" lengthAdjust="spacingAndGlyphs">−3</text>
<text x="191.94" y="685.50" font-size="8.6" textLength="9.31" lengthAdjust="spacingAndGlyphs">−2</text>
<text x="241.84" y="685.50" font-size="8.6" textLength="9.31" lengthAdjust="spacingAndGlyphs">−1</text>
<text x="294.13" y="685.50" font-size="8.6" textLength="4.54" lengthAdjust="spacingAndGlyphs">0</text>
<text x="344.03" y="685.50" font-size="8.6" textLength="4.54" lengthAdjust="spacingAndGlyphs">1</text>
<text x="207.80" y="698.20" font-size="8.6" textLength="107.30" lengthAdjust="spacingAndGlyphs">Logit Transformed Proportion</text>
<text x="232.80" y="467.80" font-size="8.6" textLength="61.30" lengthAdjust="spacingAndGlyphs">Publication bias</text>
<text x="243.60" y="479.20" font-size="8.6" textLength="4.90" lengthAdjust="spacingAndGlyphs" font-style="italic">p</text>
<text x="252.90" y="479.20" font-size="8.6" textLength="4.10" lengthAdjust="spacingAndGlyphs">&lt;</text>
<text x="260.80" y="479.20" font-size="8.6" textLength="20.30" lengthAdjust="spacingAndGlyphs">0.001</text>
<text x="0" y="0" font-size="8.6" textLength="58.2" lengthAdjust="spacingAndGlyphs" transform="translate(95.7,595.8) rotate(-90)">Standard Error</text>
</g>
</svg>
</body></html>
